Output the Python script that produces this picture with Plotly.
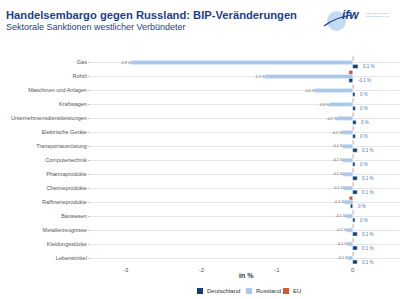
import plotly.graph_objects as go

categories = ["Gas", "Rohöl", "Maschinen und Anlagen", "Kraftwagen",
              "Unternehmensdienstleistungen", "Elektrische Geräte",
              "Transportausrüstung", "Computertechnik", "Pharmaprodukte",
              "Chemieprodukte", "Raffinerieprodukte", "Bauwesen",
              "Metallerzeugnisse", "Kleidungsstücke", "Lebensmittel"]
deutschland = [0.07, -0.05, 0.03, 0.035, 0.045, 0.035, 0.06, 0.03, 0.06,
               0.06, -0.03, 0.03, 0.06, 0.06, 0.06]
russland = [-2.93, -1.16, -0.50, -0.31, -0.21, -0.14, -0.13, -0.13, -0.13,
            -0.12, -0.11, -0.09, -0.08, -0.07, -0.06]
eu = [0.012, -0.05, 0.012, 0.012, 0.012, 0.012, 0.012, 0.012, 0.012,
      0.012, -0.045, 0.012, 0.012, 0.012, 0.012]
x_ticks = [-3, -2, -1, 0]
x_tick_labels = ["-3", "-2", "-1", "0"]
legend_names = ["Deutschland", "Russland", "EU"]

C_DE = "#0f3d82"
C_RU = "#a9c8ec"
C_EU = "#d9542b"
FONT = "Liberation Sans, Arial, sans-serif"

W, H = 410, 299
ML, MR, MT, MB = 92, 10, 54, 34
PW, PH = W - ML - MR, H - MT - MB


def px(xp):
    return (xp - ML) / PW


def py(yp):
    return (H - MB - yp) / PH


def fmt(v):
    r = round(v, 1)
    if r == 0:
        return "0 %"
    return f"{r:g} %"


fig = go.Figure()
fig.add_trace(go.Bar(y=categories, x=eu, orientation="h", name="EU",
                     marker_color=C_EU, hoverinfo="skip"))
fig.add_trace(go.Bar(y=categories, x=russland, orientation="h", name="Russland",
                     marker_color=C_RU,
                     text=[fmt(v) for v in russland], textposition="outside",
                     textfont=dict(size=4.5, color="#555", family=FONT),
                     cliponaxis=False, hoverinfo="skip"))
fig.add_trace(go.Bar(y=categories, x=deutschland, orientation="h", name="Deutschland",
                     marker_color=C_DE, hoverinfo="skip"))

annotations = []
for cat, v in zip(categories, deutschland):
    annotations.append(dict(x=max(v, 0), y=cat, xref="x", yref="y", text=fmt(v),
                            showarrow=False, xanchor="left", yanchor="middle",
                            xshift=3, yshift=-4,
                            font=dict(size=4.5, color="#4a78b8", family=FONT)))

annotations += [
    dict(x=px(4), y=py(15), xref="paper", yref="paper", xanchor="left", yanchor="middle",
         text="<b>Handelsembargo gegen Russland: BIP-Veränderungen</b>", showarrow=False,
         font=dict(size=11.2, color="#1c3f8c", family=FONT)),
    dict(x=px(4), y=py(27), xref="paper", yref="paper", xanchor="left", yanchor="middle",
         text="Sektorale Sanktionen westlicher Verbündeter", showarrow=False,
         font=dict(size=9, color="#1c3f8c", family=FONT)),
    dict(x=0.5, y=py(275), xref="paper", yref="paper", xanchor="center", yanchor="middle",
         text="<b>in %</b>", showarrow=False, font=dict(size=7, color="#333", family=FONT)),
    dict(x=px(340), y=py(15), xref="paper", yref="paper", xanchor="left", yanchor="middle",
         text="<b><i>ifw</i></b>", showarrow=False, font=dict(size=12, color="#1c3f8c", family=FONT)),
    dict(x=px(364), y=py(15), xref="paper", yref="paper", xanchor="left", yanchor="middle",
         text="KIEL INSTITUT FÜR<br>WELTWIRTSCHAFT", showarrow=False, align="left",
         font=dict(size=2.5, color="#8aa0c8", family=FONT)),
]

shapes = [
    dict(type="circle", xref="paper", yref="paper", x0=px(327), x1=px(346), y0=py(31), y1=py(11),
         fillcolor="rgba(150,190,230,0.55)", line=dict(width=0), layer="below"),
    dict(type="path", xref="paper", yref="paper",
         path=f"M {px(324)},{py(26)} Q {px(336)},{py(17)} {px(352)},{py(15)}",
         line=dict(color="#1c3f8c", width=1.2)),
]

# custom compact legend
legend_colors = [C_DE, C_RU, C_EU]
legend_x = [197, 246, 283]
for name, col, lx in zip(legend_names, legend_colors, legend_x):
    shapes.append(dict(type="rect", xref="paper", yref="paper",
                       x0=px(lx), x1=px(lx + 6), y0=py(294), y1=py(288),
                       fillcolor=col, line=dict(width=0)))
    annotations.append(dict(x=px(lx + 8), y=py(291), xref="paper", yref="paper",
                            xanchor="left", yanchor="middle", text=name, showarrow=False,
                            font=dict(size=6, color="#333", family=FONT)))

fig.update_layout(
    width=W, height=H,
    margin=dict(l=ML, r=MR, t=MT, b=MB),
    paper_bgcolor="white", plot_bgcolor="white",
    font=dict(family=FONT, color="#555"),
    barmode="group", bargap=0.15, bargroupgap=0,
    showlegend=False,
    xaxis=dict(range=[-3.445, 0.625], tickmode="array", tickvals=x_ticks,
               ticktext=x_tick_labels, showgrid=False, zeroline=False,
               ticks="", showline=False, automargin=False,
               tickfont=dict(size=6, color="#555")),
    yaxis=dict(type="category", autorange="reversed", showgrid=True, gridcolor="#e6e6e6",
               gridwidth=1, ticks="outside", ticklen=3, tickcolor="#cccccc",
               zeroline=False, automargin=False, tickfont=dict(size=5.5, color="#555")),
    annotations=annotations,
    shapes=shapes,
)

fig.write_html("out.html", config={"displayModeBar": False},
               post_script="document.body.style.margin='0';document.body.style.overflow='hidden';")
